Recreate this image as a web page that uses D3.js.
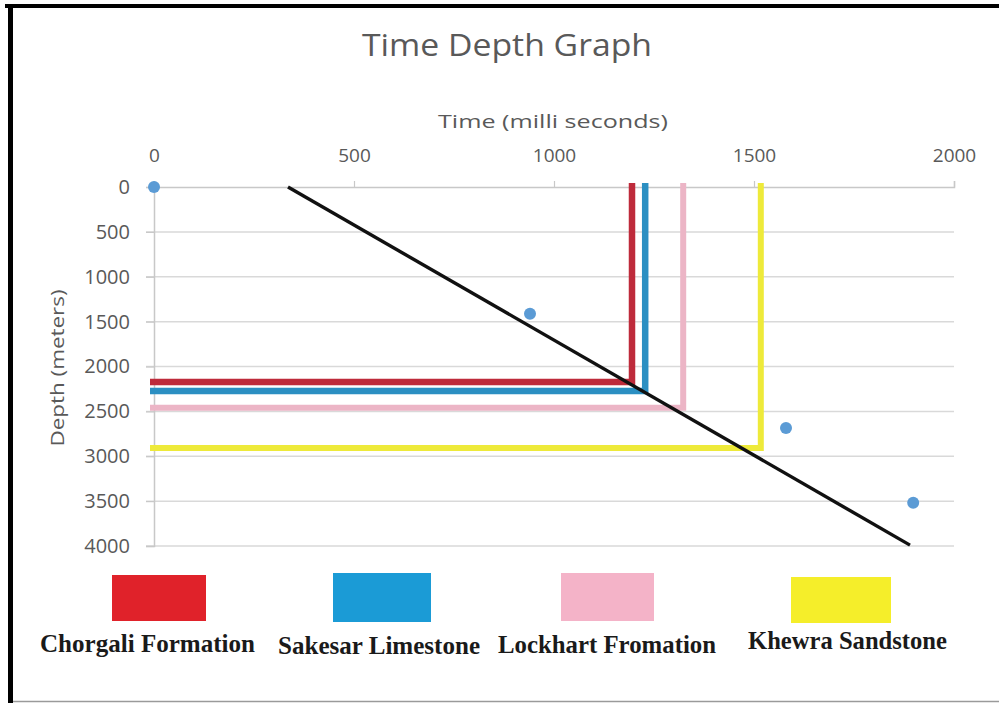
<!DOCTYPE html>
<html>
<head>
<meta charset="utf-8">
<script src="https://cdn.jsdelivr.net/npm/d3@7"></script>
<style>
  html, body { margin: 0; padding: 0; background: #fff; }
  svg { display: block; }
</style>
</head>
<body>
<svg id="chart" width="999" height="703"></svg>
<script>
// Axis ticks
const timeTicks = [0, 500, 1000, 1500, 2000];
const depthTicks = [0, 500, 1000, 1500, 2000, 2500, 3000, 3500, 4000];

// Measured time-depth points
const pointTime = [0, 940, 1580, 1898];
const pointDepth = [0, 1411, 2684, 3519];

// Linear trend through the points
const trendTime = [335, 1890];
const trendDepth = [0, 3990];

// Formation tops picked on the trend line
const formationNames = ["Chorgali Formation", "Sakesar Limestone", "Lockhart Fromation", "Khewra Sandstone"];
const formationTime = [1195, 1228, 1323, 1517];
const formationDepth = [2172, 2272, 2461, 2907];
const formationLineColors = ["#be2b3b", "#2b8fc2", "#ecb5c6", "#eeea3a"];
const formationKeyColors = ["#e0222a", "#1b9bd6", "#f4b3c8", "#f5ee2a"];

const svg = d3.select("#chart");

// Outer frame
svg.append("rect").attr("x", 0).attr("y", 0).attr("width", 999).attr("height", 703).attr("fill", "#fff");
svg.append("rect").attr("x", 5).attr("y", 4).attr("width", 994).attr("height", 4).attr("fill", "#000");
svg.append("rect").attr("x", 8).attr("y", 4).attr("width", 5).attr("height", 699).attr("fill", "#000");
svg.append("line").attr("x1", 13).attr("x2", 999).attr("y1", 701.5).attr("y2", 701.5)
  .attr("stroke", "#9a9a9a").attr("stroke-width", 1.5);

const x = d3.scaleLinear().domain([0, 2000]).range([154, 954]);
const y = d3.scaleLinear().domain([0, 4000]).range([187, 546]);

const labelFont = "'Open Sans', 'DejaVu Sans', sans-serif";

// Title
svg.append("text").attr("x", 507).attr("y", 56).attr("text-anchor", "middle")
  .attr("font-family", labelFont).attr("font-size", 31).attr("fill", "#595959")
  .attr("textLength", 290).attr("lengthAdjust", "spacingAndGlyphs")
  .text("Time Depth Graph");

// Horizontal gridlines
svg.append("g").selectAll("line").data(depthTicks.slice(1)).join("line")
  .attr("x1", x(0) - 8).attr("x2", x(2000))
  .attr("y1", d => y(d)).attr("y2", d => y(d))
  .attr("stroke", "#d9d9d9").attr("stroke-width", 1.5);

// Top time axis
const xAxis = svg.append("g").attr("transform", `translate(0,${y(0)})`)
  .call(d3.axisTop(x).tickValues(timeTicks).tickSize(6).tickPadding(19).tickFormat(d3.format("d")));
xAxis.select(".domain").attr("stroke", "#c8c8c8").attr("stroke-width", 1.5);
xAxis.selectAll(".tick line").attr("stroke", "#c8c8c8").attr("stroke-width", 1.2);
xAxis.selectAll(".tick text").attr("font-family", labelFont).attr("font-size", 19).attr("fill", "#595959");

// Left depth axis
const yAxis = svg.append("g").attr("transform", `translate(${x(0)},0)`)
  .call(d3.axisLeft(y).tickValues(depthTicks).tickSize(8).tickPadding(16).tickFormat(d3.format("d")));
yAxis.select(".domain").attr("stroke", "#c8c8c8").attr("stroke-width", 1.5);
yAxis.selectAll(".tick line").attr("stroke", "#c8c8c8").attr("stroke-width", 1.2);
yAxis.selectAll(".tick text").attr("font-family", labelFont).attr("font-size", 20).attr("fill", "#595959");

// Axis titles
svg.append("text").attr("x", 553).attr("y", 128).attr("text-anchor", "middle")
  .attr("font-family", labelFont).attr("font-size", 19).attr("fill", "#595959")
  .attr("textLength", 230).attr("lengthAdjust", "spacingAndGlyphs")
  .text("Time (milli seconds)");
svg.append("text").attr("transform", "translate(64,368) rotate(-90)").attr("text-anchor", "middle")
  .attr("font-family", labelFont).attr("font-size", 19).attr("fill", "#595959")
  .attr("textLength", 157).attr("lengthAdjust", "spacingAndGlyphs")
  .text("Depth (meters)");

// Formation picks: vertical from the time axis, horizontal to the depth axis
const picks = svg.append("g");
formationNames.forEach((name, i) => {
  const path = d3.path();
  path.moveTo(x(formationTime[i]), y(0) - 4);
  path.lineTo(x(formationTime[i]), y(formationDepth[i]));
  path.lineTo(x(0) - 4, y(formationDepth[i]));
  picks.append("path").attr("d", path.toString())
    .attr("fill", "none").attr("stroke", formationLineColors[i])
    .attr("stroke-width", i < 2 ? 6.5 : 6).attr("stroke-linejoin", "miter");
});

// Trend line
const line = d3.line().x(d => x(d[0])).y(d => y(d[1]));
svg.append("path").datum(d3.zip(trendTime, trendDepth)).attr("d", line)
  .attr("fill", "none").attr("stroke", "#111").attr("stroke-width", 3.4);

// Data points
svg.append("g").selectAll("circle").data(d3.zip(pointTime, pointDepth)).join("circle")
  .attr("cx", d => x(d[0])).attr("cy", d => y(d[1])).attr("r", 6)
  .attr("fill", "#5b9bd5");

// Colour key
const keyBoxX = [112, 333, 561, 791];
const keyBoxW = [94, 98, 93, 100];
const keyBoxY = [575, 573, 573, 577];
const keyBoxH = [46, 49, 48, 46];
const keyTextX = [40, 278, 498, 748];
const keyTextW = [215, 202, 218, 199];
const keyTextY = [652, 654, 653, 649];
const key = svg.append("g");
formationNames.forEach((name, i) => {
  key.append("rect").attr("x", keyBoxX[i]).attr("y", keyBoxY[i])
    .attr("width", keyBoxW[i]).attr("height", keyBoxH[i]).attr("fill", formationKeyColors[i]);
  key.append("text").attr("x", keyTextX[i]).attr("y", keyTextY[i])
    .attr("font-family", "'Liberation Serif', 'DejaVu Serif', serif").attr("font-weight", "bold")
    .attr("font-size", 25).attr("fill", "#1a1a1a")
    .attr("textLength", keyTextW[i]).attr("lengthAdjust", "spacingAndGlyphs")
    .text(name);
});
</script>
</body>
</html>
